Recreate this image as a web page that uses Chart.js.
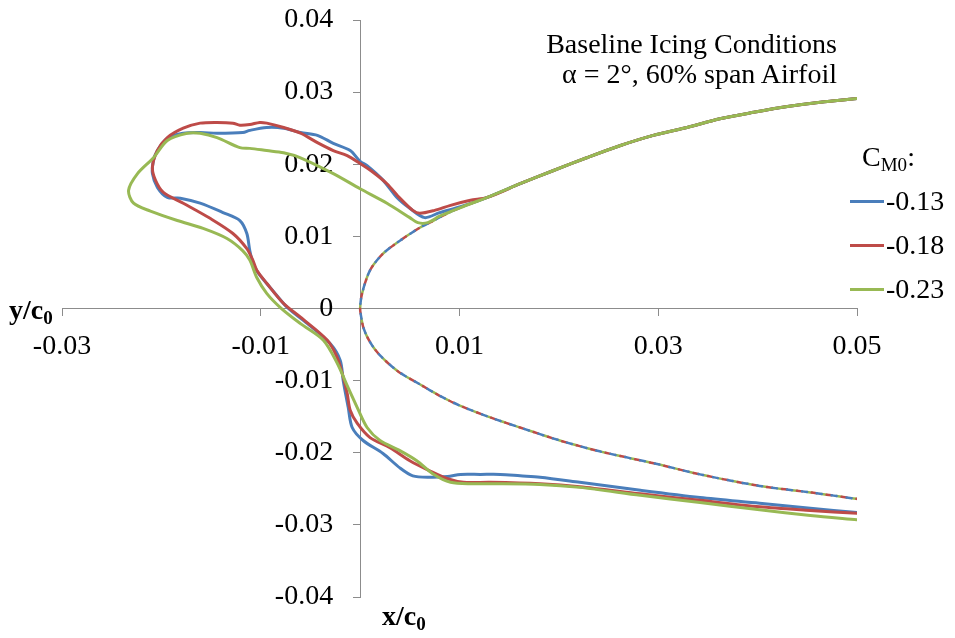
<!DOCTYPE html>
<html>
<head>
<meta charset="utf-8">
<title>Ice shape comparison</title>
<script src="https://cdn.jsdelivr.net/npm/chart.js@4.4.1/dist/chart.umd.min.js"></script>
<style>
  body { margin: 0; background: #fff; }
  #wrap {
    position: relative;
    width: 955px;
    height: 638px;
    font-family: "Liberation Serif", "Times New Roman", serif;
    color: #000;
  }
  #chart { position: absolute; left: 0; top: 0; }
  sub { font-size: 0.68em; line-height: 0; vertical-align: -0.28em; }
  .note {
    position: absolute;
    right: 118px;
    top: 29px;
    text-align: right;
    font-size: 28px;
    line-height: 30px;
  }
  .axis-title { position: absolute; font-weight: bold; font-size: 28px; line-height: 30px; }
  #legend { position: absolute; left: 850px; top: 135px; font-size: 28px; }
  #legend .title { margin-left: 12px; height: 44px; line-height: 44px; }
  #legend .item { display: flex; align-items: center; height: 44px; }
  #legend .swatch { width: 34px; height: 3px; margin-right: 2px; }
</style>
</head>
<body>
<div id="wrap">
  <canvas id="chart" width="955" height="638"></canvas>
  <div class="note">Baseline Icing Conditions<br>&alpha; = 2&deg;, 60% span Airfoil</div>
  <div class="axis-title" style="left: 9px; top: 295px;">y/c<sub>0</sub></div>
  <div class="axis-title" style="left: 382px; top: 601px;">x/c<sub>0</sub></div>
  <div id="legend"></div>
</div>
<script>
// legend entries (C_M0 values) and colours
const seriesNames = ["-0.13", "-0.18", "-0.23"];
const seriesColors = ["#4a7ebb", "#be4b48", "#98b954"];

const xTickValues = [-0.03, -0.01, 0.01, 0.03, 0.05];
const yTickValues = [-0.04, -0.03, -0.02, -0.01, 0, 0.01, 0.02, 0.03, 0.04];

// upper surface aft of the ice, common to all curves (x/c0, y/c0)
const sharedUpper = [
  [0.0500, 0.0291], [0.0463, 0.0286], [0.0430, 0.0280], [0.0396, 0.0272],
  [0.0362, 0.0263], [0.0329, 0.0251], [0.0295, 0.0240], [0.0262, 0.0226],
  [0.0228, 0.0209], [0.0194, 0.0191], [0.0161, 0.0173], [0.0128, 0.0154]
];

// clean leading edge, upper -> nose -> lower
const cleanNose = [
  [0.0094, 0.0136], [0.0070, 0.0119], [0.0060, 0.0112], [0.0040, 0.0094],
  [0.0023, 0.0076], [0.0010, 0.0053], [0.0002, 0.0021], [0.0000, 0.0000],
  [0.0001, -0.0011], [0.0003, -0.0025], [0.0007, -0.0039], [0.0013, -0.0053],
  [0.0020, -0.0065], [0.0030, -0.0078], [0.0040, -0.0089], [0.0060, -0.0105],
  [0.0080, -0.0121], [0.0101, -0.0135], [0.0131, -0.0151], [0.0161, -0.0165],
  [0.0201, -0.0183], [0.0241, -0.0198], [0.0300, -0.0216], [0.0342, -0.0230],
  [0.0402, -0.0246], [0.0453, -0.0255], [0.0500, -0.0264]
];

// ice shapes, continuing from sharedUpper around the horn to the lower surface
const ice013 = [
  [0.0101, 0.0141], [0.0080, 0.0133], [0.0065, 0.0126], [0.0050, 0.0139],
  [0.0037, 0.0154], [0.0023, 0.0178], [0.0007, 0.0198], [0.0000, 0.0204],
  [-0.0010, 0.0219], [-0.0027, 0.0229], [-0.0043, 0.0240], [-0.0060, 0.0244],
  [-0.0077, 0.0250], [-0.0094, 0.0251], [-0.0111, 0.0247], [-0.0118, 0.0244],
  [-0.0144, 0.0243], [-0.0161, 0.0244], [-0.0178, 0.0243], [-0.0194, 0.0236],
  [-0.0204, 0.0219], [-0.0208, 0.0205], [-0.0209, 0.0187], [-0.0204, 0.0168],
  [-0.0194, 0.0154], [-0.0181, 0.0153], [-0.0161, 0.0146], [-0.0138, 0.0133],
  [-0.0121, 0.0122], [-0.0114, 0.0104], [-0.0111, 0.0080], [-0.0108, 0.0064],
  [-0.0103, 0.0050], [-0.0088, 0.0025], [-0.0073, 0.0001], [-0.0053, -0.0021],
  [-0.0030, -0.0049], [-0.0020, -0.0072], [-0.0017, -0.0100], [-0.0012, -0.0137],
  [-0.0008, -0.0165], [0.0003, -0.0183], [0.0023, -0.0201], [0.0040, -0.0221],
  [0.0053, -0.0232], [0.0070, -0.0234], [0.0088, -0.0233], [0.0101, -0.0230],
  [0.0121, -0.0230], [0.0141, -0.0230], [0.0161, -0.0232], [0.0181, -0.0234],
  [0.0221, -0.0241], [0.0282, -0.0252], [0.0342, -0.0262], [0.0402, -0.0270],
  [0.0453, -0.0277], [0.0500, -0.0283]
];

const ice018 = [
  [0.0111, 0.0150], [0.0091, 0.0143], [0.0075, 0.0136], [0.0060, 0.0132],
  [0.0053, 0.0136], [0.0040, 0.0153], [0.0027, 0.0173], [0.0013, 0.0189],
  [0.0000, 0.0201], [-0.0013, 0.0212], [-0.0027, 0.0219], [-0.0043, 0.0230],
  [-0.0060, 0.0243], [-0.0077, 0.0251], [-0.0094, 0.0257], [-0.0101, 0.0258],
  [-0.0111, 0.0255], [-0.0121, 0.0254], [-0.0128, 0.0257], [-0.0144, 0.0258],
  [-0.0161, 0.0257], [-0.0178, 0.0250], [-0.0194, 0.0237], [-0.0204, 0.0219],
  [-0.0209, 0.0196], [-0.0206, 0.0178], [-0.0198, 0.0161], [-0.0178, 0.0146],
  [-0.0151, 0.0125], [-0.0128, 0.0104], [-0.0114, 0.0083], [-0.0108, 0.0067],
  [-0.0104, 0.0053], [-0.0094, 0.0035], [-0.0077, 0.0007], [-0.0060, -0.0012],
  [-0.0033, -0.0044], [-0.0023, -0.0068], [-0.0018, -0.0090], [-0.0013, -0.0118],
  [-0.0010, -0.0141], [-0.0003, -0.0159], [0.0010, -0.0179], [0.0030, -0.0193],
  [0.0050, -0.0211], [0.0070, -0.0225], [0.0088, -0.0236], [0.0104, -0.0241],
  [0.0131, -0.0241], [0.0181, -0.0243], [0.0221, -0.0247], [0.0282, -0.0257],
  [0.0342, -0.0266], [0.0402, -0.0275], [0.0453, -0.0280], [0.0500, -0.0284]
];

const ice023 = [
  [0.0101, 0.0140], [0.0080, 0.0128], [0.0068, 0.0119], [0.0058, 0.0119],
  [0.0050, 0.0126], [0.0027, 0.0146], [0.0000, 0.0166], [-0.0027, 0.0187],
  [-0.0060, 0.0209], [-0.0077, 0.0216], [-0.0094, 0.0219], [-0.0111, 0.0222],
  [-0.0121, 0.0223], [-0.0144, 0.0237], [-0.0161, 0.0243], [-0.0174, 0.0243],
  [-0.0194, 0.0233], [-0.0208, 0.0209], [-0.0224, 0.0187], [-0.0233, 0.0164],
  [-0.0228, 0.0146], [-0.0211, 0.0135], [-0.0184, 0.0122], [-0.0158, 0.0111],
  [-0.0134, 0.0097], [-0.0118, 0.0080], [-0.0111, 0.0067], [-0.0104, 0.0043],
  [-0.0094, 0.0021], [-0.0080, 0.0001], [-0.0060, -0.0021], [-0.0037, -0.0044],
  [-0.0023, -0.0076], [-0.0013, -0.0107], [-0.0003, -0.0137], [0.0007, -0.0165],
  [0.0020, -0.0183], [0.0040, -0.0197], [0.0057, -0.0211], [0.0073, -0.0229],
  [0.0091, -0.0241], [0.0114, -0.0243], [0.0131, -0.0243], [0.0181, -0.0244],
  [0.0221, -0.0248], [0.0282, -0.0259], [0.0342, -0.0269], [0.0402, -0.0279],
  [0.0453, -0.0287], [0.0500, -0.0293]
];

const iceShapes = [ice013, ice018, ice023];

const serif = "'Liberation Serif', 'Times New Roman', serif";
const axisGray = "#8c8c8c";

function toPoints(pairs) {
  return pairs.map(([x, y]) => ({ x: x, y: y }));
}

function tickLabel(value) {
  if (Math.abs(value) < 1e-9) {
    return "0";
  }
  return value.toFixed(2);
}

// y axis sits at x = 0, chart.js puts its labels right on the line there,
// so move them left past the tick marks once the layout is done
const yLabelGap = {
  id: "yLabelGap",
  afterLayout(chart) {
    chart.scales.y.getLabelItems(chart.chartArea).forEach((item) => {
      item.options.translation[0] -= 27;
    });
  }
};

// clean airfoil is drawn three times with offset dashes so the colours alternate
const cleanDatasets = seriesColors.map((color, i) => ({
  label: "clean",
  data: toPoints(sharedUpper.concat(cleanNose)),
  borderColor: color,
  borderWidth: 2.5,
  borderDash: [5, 10],
  borderDashOffset: i * 5,
  order: 10
}));

const iceDatasets = iceShapes.map((shape, i) => ({
  label: seriesNames[i],
  data: toPoints(sharedUpper.concat(shape)),
  borderColor: seriesColors[i],
  borderWidth: 3,
  order: 3 - i
}));

const chart = new Chart(document.getElementById("chart"), {
  type: "scatter",
  data: { datasets: iceDatasets.concat(cleanDatasets) },
  plugins: [yLabelGap],
  options: {
    responsive: false,
    animation: false,
    layout: { padding: { left: 62, right: 98, top: 20, bottom: 41 } },
    elements: {
      point: { radius: 0, hoverRadius: 0 },
      line: { tension: 0.3, fill: false, borderCapStyle: "round", borderJoinStyle: "round" }
    },
    datasets: { scatter: { showLine: true } },
    plugins: {
      legend: { display: false },
      tooltip: { enabled: false }
    },
    scales: {
      x: {
        type: "linear",
        min: -0.03,
        max: 0.05,
        position: { y: 0 },
        afterBuildTicks: (axis) => {
          axis.ticks = xTickValues.map((v) => ({ value: v }));
        },
        grid: { drawOnChartArea: false, drawTicks: true, tickLength: 7, color: axisGray },
        border: { color: axisGray, width: 1 },
        ticks: {
          color: "#000",
          font: { family: serif, size: 28 },
          padding: 14,
          maxRotation: 0,
          autoSkip: false,
          callback: tickLabel
        }
      },
      y: {
        type: "linear",
        min: -0.04,
        max: 0.04,
        position: { x: 0 },
        afterBuildTicks: (axis) => {
          axis.ticks = yTickValues.map((v) => ({ value: v }));
        },
        grid: { drawOnChartArea: false, drawTicks: true, tickLength: 7, color: axisGray },
        border: { color: axisGray, width: 1 },
        ticks: {
          color: "#000",
          font: { family: serif, size: 28 },
          padding: 0,
          autoSkip: false,
          callback: tickLabel
        }
      }
    }
  }
});

// legend built from the series names and colours
const legendEl = document.getElementById("legend");
legendEl.innerHTML = '<div class="title">C<sub>M0</sub>:</div>';
seriesNames.forEach((name, i) => {
  const item = document.createElement("div");
  item.className = "item";
  const swatch = document.createElement("span");
  swatch.className = "swatch";
  swatch.style.background = seriesColors[i];
  const text = document.createElement("span");
  text.textContent = name;
  item.appendChild(swatch);
  item.appendChild(text);
  legendEl.appendChild(item);
});
</script>
</body>
</html>
